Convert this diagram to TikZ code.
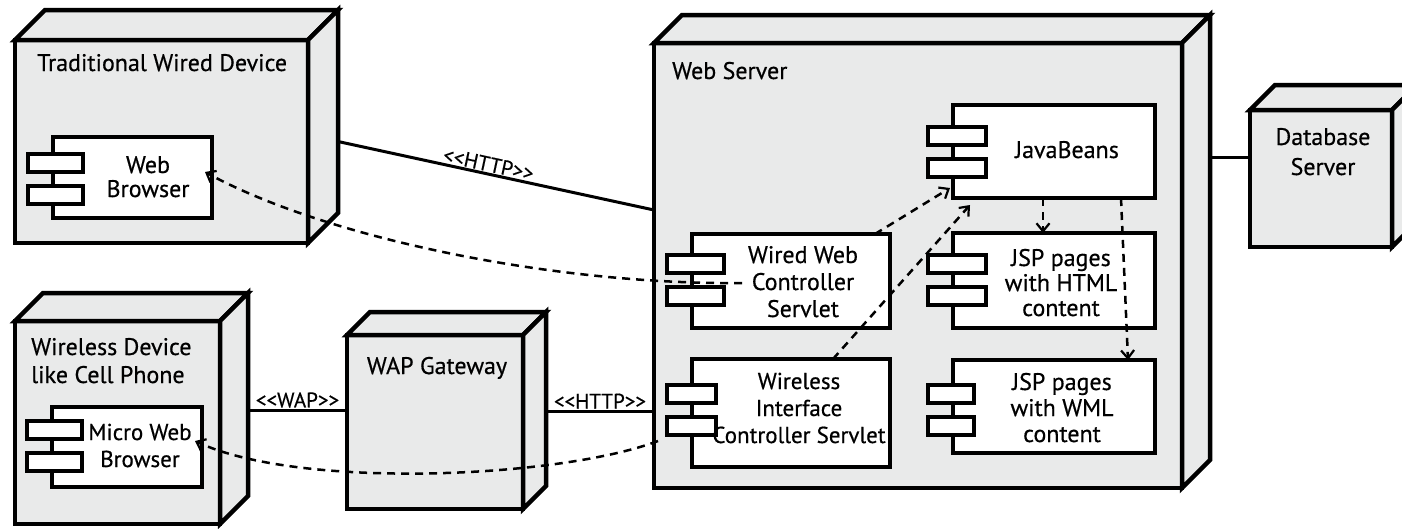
\documentclass[tikz,border=0pt]{standalone}
\usepackage{fontspec}
\setmainfont{PT Sans}
\newfontfamily\diafont{PT Sans}[FakeBold=0.5]
\newfontfamily\stfont{PT Sans}[FakeBold=0.4, Ligatures=TeXOff]
\usetikzlibrary{arrows.meta}
\definecolor{nodegray}{RGB}{233,234,234}
% top and side faces of a 3D deployment node: #1 node name, #2 depth
\newcommand\devfaces[2]{%
  \draw[devline] (#1.north west) -- ++(#2pt,#2pt) -- ([shift={(#2pt,#2pt)}]#1.north east) -- (#1.north east) -- cycle;
  \draw[devline] (#1.north east) -- ++(#2pt,#2pt) -- ([shift={(#2pt,#2pt)}]#1.south east) -- (#1.south east) -- cycle;}
% the two tabs of a UML component: #1 name, #2 tab width, #3 vertical offset
\newcommand\comptabs[3]{%
  \draw[tabbox] ([xshift=-25pt,yshift={(25-(#3))*1pt}]#1.west) rectangle ++(#2pt,-18pt);
  \draw[tabbox] ([xshift=-25pt,yshift={(-7-(#3))*1pt}]#1.west) rectangle ++(#2pt,-18pt);}
\begin{document}
\begin{tikzpicture}[x=1pt,y=-1pt,
  device/.style={draw, fill=nodegray, line width=4.5pt, inner sep=0pt, outer sep=0pt},
  devline/.style={draw, fill=nodegray, line width=4.5pt},
  comp/.style={draw, fill=white, line width=4pt, inner sep=0pt, outer sep=0pt},
  tabbox/.style={draw, fill=white, line width=4pt},
  txt/.style={font=\diafont\fontsize{24pt}{27pt}\selectfont, inner sep=0pt, align=center},
  stereo/.style={font=\stfont\fontsize{21pt}{22pt}\selectfont, inner sep=1pt},
  link/.style={line width=3pt},
  dep/.style={line width=2.5pt, dash pattern=on 8pt off 6pt,
    -{Straight Barb[length=8pt,width=13pt,line width=2.2pt]}},
]
\useasboundingbox (0,0) rectangle (1402,528);
\clip (0,0) rectangle (1402,528);

% deployment nodes
\node[device, minimum width=293pt, minimum height=203pt] (twd) at (161.5,141.5) {};
\devfaces{twd}{30}
\node[device, minimum width=205pt, minimum height=203pt] (wd) at (117.5,422.5) {};
\devfaces{wd}{28}
\node[device, minimum width=176pt, minimum height=174pt] (wap) at (435,422) {};
\devfaces{wap}{23}
\node[device, minimum width=528pt, minimum height=445pt] (ws) at (918,265.5) {};
\devfaces{ws}{28}
\node[device, minimum width=142pt, minimum height=137pt] (db) at (1321,178.5) {};
\devfaces{db}{25}

\node[txt, anchor=base west] (twdlbl) at (37,71) {Traditional Wired Device};
\node[txt, anchor=base west] (wslbl) at (672,79) {Web Server};
\node[txt, anchor=base west, align=left, font=\diafont\fontsize{24pt}{28pt}\selectfont] (wdlbl) at (31,383) {Wireless Device\\like Cell Phone};
\node[txt, anchor=base] (waplbl) at (437,374) {WAP Gateway};
\node[txt, anchor=base, font=\diafont\fontsize{24pt}{30pt}\selectfont] (dblbl) at (1323,175) {Database\\Server};

% components
\node[comp, minimum width=159pt, minimum height=81pt] (wb) at (132.5,177.5) {};
\comptabs{wb}{55}{1}
\node[comp, minimum width=150pt, minimum height=80pt] (mwb) at (127,447) {};
\comptabs{mwb}{55}{-1.5}
\node[comp, minimum width=202pt, minimum height=93pt] (jb) at (1054,151.5) {};
\comptabs{jb}{58}{0}
\node[comp, minimum width=202pt, minimum height=95pt] (jsph) at (1054,280.5) {};
\comptabs{jsph}{58}{-1}
\node[comp, minimum width=202pt, minimum height=93pt] (jspw) at (1054,406.5) {};
\comptabs{jspw}{46}{3.5}
\node[comp, minimum width=198pt, minimum height=94pt] (wwc) at (791,281) {};
\comptabs{wwc}{57}{-1}
\node[comp, minimum width=198pt, minimum height=108pt] (wic) at (791,413) {};
\comptabs{wic}{49}{-3.5}

\node[txt, anchor=base, font=\diafont\fontsize{24pt}{24pt}\selectfont] (wbtxt) at (148,197) {Web\\Browser};
\node[txt, anchor=base, font=\diafont\fontsize{23pt}{27pt}\selectfont] (mwbtxt) at (140,467) {Micro Web\\Browser};
\node[txt, anchor=base] (jbtxt) at (1067,158) {JavaBeans};
\node[txt, anchor=base, font=\diafont\fontsize{24pt}{25pt}\selectfont] (jsphtxt) at (1061,316) {JSP pages\\with HTML\\content};
\node[txt, anchor=base, font=\diafont\fontsize{24pt}{26pt}\selectfont] (jspwtxt) at (1062,442) {JSP pages\\with WML\\content};
\node[txt, anchor=base] (wwctxt) at (803,317) {Wired Web\\Controller\\Servlet};
\node[txt, anchor=base, font=\diafont\fontsize{23pt}{27pt}\selectfont] (wictxt) at (799,443) {Wireless\\Interface\\Controller Servlet};

% communication paths
\draw[link] ([xshift=30pt]twd.east) -- node[stereo, pos=0.47, above, sloped] (httptop) {<<HTTP>>} ([yshift=55.5pt]ws.west);
\draw[link] ([xshift=28pt,yshift=12.5pt]wd.east) -- node[stereo, above] (waptxt) {<<WAP>>} ([yshift=12pt]wap.west);
\draw[link] ([xshift=23pt,yshift=11pt]wap.east) -- node[stereo, above] (httpbot) {<<HTTP>>} ([yshift=-145.5pt]ws.west);
\draw[link] ([xshift=28pt,yshift=108.5pt]ws.east) -- ([yshift=21.5pt]db.west);

% dependencies
\draw[dep] ([xshift=-49pt,yshift=-2pt]wwc.center) .. controls (560,285) and (330,240) .. ([xshift=-7pt,yshift=5.5pt]wb.east);
\draw[dep] ([xshift=-34pt,yshift=-28pt]wic.west) .. controls (560,478) and (300,490) .. ([xshift=-7pt,yshift=6pt]mwb.east);
\draw[dep] ([xshift=84pt]wwc.north) -- ([xshift=-3pt,yshift=10pt]jb.south west);
\draw[dep] ([xshift=42pt]wic.north) -- ([xshift=17pt,yshift=-7pt]jb.south west);
\draw[dep] ([xshift=-11pt]jb.south) -- ([xshift=-11pt]jsph.north);
\draw[dep] ([xshift=67pt]jb.south) -- ([xshift=74pt]jspw.north);
\end{tikzpicture}
\end{document}
